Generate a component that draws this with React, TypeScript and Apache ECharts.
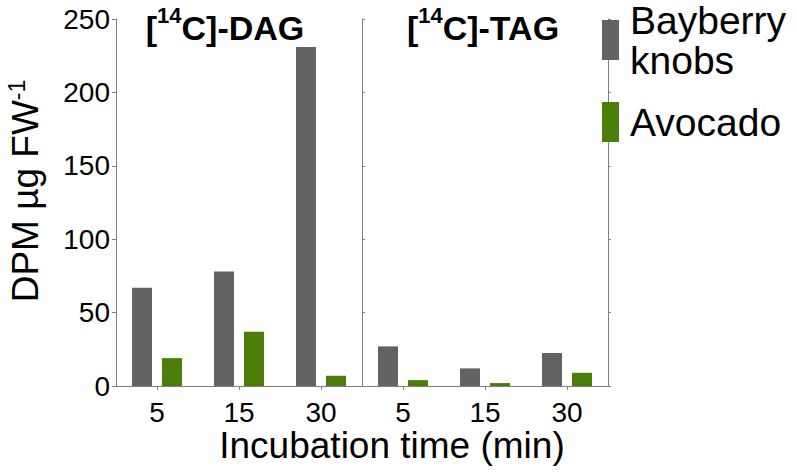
import React, { useEffect, useRef } from "react";
import * as echarts from "echarts";

const categories = ["5", "15", "30"];
const seriesNames = ["Bayberry knobs", "Avocado"];
const dagBayberry = [67, 78, 231];
const dagAvocado = [19, 37, 7];
const tagBayberry = [27, 12, 22.5];
const tagAvocado = [4, 2, 9];
const panelTitles = ["DAG", "TAG"];
const yMin = 0;
const yMax = 250;
const yInterval = 50;

const FONT = "'Liberation Sans', Arial, Helvetica, sans-serif";
const GRAY = "#636363";
const GREEN = "#4b7f0a";
const AXIS = "#7f7f7f";

const TITLE_SIZE = 34;
const SUP_SIZE = 22;

function measure(text: string, size: number): number {
  const c = document.createElement("canvas").getContext("2d");
  if (!c) return text.length * size * 0.6;
  c.font = `bold ${size}px ${FONT}`;
  return c.measureText(text).width;
}

function titleGroup(name: string, cx: number) {
  const a = "[";
  const s = "14";
  const b = `C]-${name}`;
  const wa = measure(a, TITLE_SIZE);
  const ws = measure(s, SUP_SIZE);
  const wb = measure(b, TITLE_SIZE);
  const x0 = cx - (wa + ws + wb) / 2;
  const common = { fontWeight: "bold", fontFamily: FONT, fill: "#000", align: "left" };
  return [
    { type: "text", x: x0, y: 28, style: { ...common, text: a, fontSize: TITLE_SIZE, verticalAlign: "middle" } },
    { type: "text", x: x0 + wa, y: 15, style: { ...common, text: s, fontSize: SUP_SIZE, verticalAlign: "middle" } },
    { type: "text", x: x0 + wa + ws, y: 28, style: { ...common, text: b, fontSize: TITLE_SIZE, verticalAlign: "middle" } },
  ];
}

export default function App() {
  const ref = useRef<HTMLDivElement>(null);

  useEffect(() => {
    document.body.style.margin = "0";
    if (!ref.current) return;
    const chart = echarts.init(ref.current, null, { renderer: "svg" });

    const yBase = {
      type: "value",
      min: yMin,
      max: yMax,
      interval: yInterval,
      splitLine: { show: false },
      axisLine: { show: true, lineStyle: { color: AXIS, width: 1 } },
    };
    const xBase = {
      type: "category",
      data: categories,
      axisLine: { show: true, lineStyle: { color: AXIS, width: 1 } },
      axisTick: { show: true, alignWithLabel: true, length: 4, lineStyle: { color: AXIS } },
      axisLabel: { fontSize: 28, color: "#000", fontFamily: FONT, margin: 12 },
    };

    const barCommon = { type: "bar", barWidth: 20, barGap: "50%" };

    chart.setOption({
      animation: false,
      grid: [
        { left: 116, top: 19, width: 246, height: 367 },
        { left: 362, top: 19, width: 246, height: 367 },
      ],
      legend: {
        orient: "vertical",
        left: 602,
        top: 0,
        padding: 0,
        itemWidth: 17,
        itemHeight: 40,
        itemGap: 22,
        icon: "rect",
        selectedMode: false,
        data: seriesNames,
        formatter: (n: string) => n.replace(" ", "\n"),
        textStyle: { fontSize: 39, lineHeight: 40, color: "#000", fontFamily: FONT, padding: [0, 0, 0, 6] },
      },
      xAxis: [
        { ...xBase, gridIndex: 0 },
        { ...xBase, gridIndex: 1 },
      ],
      yAxis: [
        {
          ...yBase,
          gridIndex: 0,
          axisTick: { show: true, length: 4, lineStyle: { color: AXIS } },
          axisLabel: { fontSize: 28, color: "#000", fontFamily: FONT, margin: 6 },
        },
        {
          ...yBase,
          gridIndex: 1,
          axisTick: { show: true, inside: true, length: 3, lineStyle: { color: AXIS } },
          axisLabel: { show: false },
        },
        {
          ...yBase,
          gridIndex: 1,
          axisTick: { show: true, inside: false, length: 3, lineStyle: { color: AXIS } },
          axisLabel: { show: false },
        },
      ],
      series: [
        { ...barCommon, name: seriesNames[0], xAxisIndex: 0, yAxisIndex: 0, data: dagBayberry, itemStyle: { color: GRAY } },
        { ...barCommon, name: seriesNames[1], xAxisIndex: 0, yAxisIndex: 0, data: dagAvocado, itemStyle: { color: GREEN } },
        { ...barCommon, name: seriesNames[0], xAxisIndex: 1, yAxisIndex: 1, data: tagBayberry, itemStyle: { color: GRAY } },
        { ...barCommon, name: seriesNames[1], xAxisIndex: 1, yAxisIndex: 1, data: tagAvocado, itemStyle: { color: GREEN } },
      ],
      graphic: [
        ...titleGroup(panelTitles[0], 225),
        ...titleGroup(panelTitles[1], 483),
        {
          type: "text",
          x: 25,
          y: 191,
          rotation: Math.PI / 2,
          style: {
            text: "{m|DPM µg FW}{s|-1}",
            align: "center",
            verticalAlign: "middle",
            rich: {
              m: { fontSize: 37, fontFamily: FONT, fill: "#000", lineHeight: 40 },
              s: { fontSize: 23, fontFamily: FONT, fill: "#000", verticalAlign: "top", lineHeight: 24 },
            },
          },
        },
        {
          type: "text",
          x: 392,
          y: 445,
          style: {
            text: "Incubation time (min)",
            fontSize: 37,
            fontFamily: FONT,
            fill: "#000",
            align: "center",
            verticalAlign: "middle",
          },
        },
      ],
    });

    return () => chart.dispose();
  }, []);

  return <div ref={ref} style={{ width: 797, height: 476 }} />;
}
